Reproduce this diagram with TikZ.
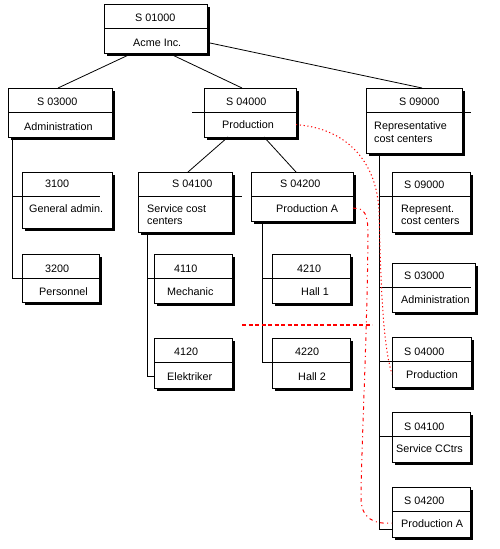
\documentclass[tikz,border=0pt]{standalone}
\usepackage{fontspec}
\setmainfont{Liberation Sans}
\usetikzlibrary{calc,shadows}

\tikzset{
  unit/.style={draw, fill=white, line width=0.8pt, inner sep=0pt, outer sep=0pt, anchor=north west,
    drop shadow={shadow xshift=2.6pt, shadow yshift=-2.6pt, opacity=1, fill=black}},
  txt/.style={anchor=base west, inner sep=0pt, font=\fontsize{10.8}{12}\selectfont},
  link/.style={line width=0.8pt},
  trace/.style={draw=red, line width=1pt, dash pattern=on 1.2pt off 2.6pt},
  trace2/.style={draw=red, line width=1pt, dash pattern=on 3.5pt off 3.5pt on 1pt off 3.5pt},
  redcut/.style={draw=red, line width=1.2pt, dash pattern=on 4pt off 2.5pt}
}

\begin{document}
\begin{tikzpicture}[x=1pt, y=-1pt]
\useasboundingbox (0,0) rectangle (499,549);

\node[unit, minimum width=103pt, minimum height=49pt] (s01000) at (104,4) {};
\node[unit, minimum width=104pt, minimum height=49pt] (s03000) at (8,88) {};
\node[unit, minimum width=92pt, minimum height=49pt] (s04000) at (204,88) {};
\node[unit, minimum width=96pt, minimum height=65pt] (s09000) at (366,88) {};
\node[unit, minimum width=90pt, minimum height=56pt] (u3100) at (22,172) {};
\node[unit, minimum width=77pt, minimum height=48pt] (u3200) at (22,254) {};
\node[unit, minimum width=94pt, minimum height=60pt] (s04100) at (138,172) {};
\node[unit, minimum width=102pt, minimum height=49pt] (s04200) at (251,172) {};
\node[unit, minimum width=78pt, minimum height=49pt] (u4110) at (154,254) {};
\node[unit, minimum width=78pt, minimum height=50pt] (u4120) at (154,338) {};
\node[unit, minimum width=78pt, minimum height=49pt] (u4210) at (272,254) {};
\node[unit, minimum width=78pt, minimum height=50pt] (u4220) at (272,338) {};
\node[unit, minimum width=78pt, minimum height=60pt] (r09000) at (392,172) {};
\node[unit, minimum width=83pt, minimum height=49pt] (r03000) at (392,263) {};
\node[unit, minimum width=79pt, minimum height=50pt] (r04000) at (392,337) {};
\node[unit, minimum width=78pt, minimum height=50pt] (r04100) at (392,412) {};
\node[unit, minimum width=78pt, minimum height=50pt] (r04200) at (392,487) {};

\foreach \b in {s01000,s03000,s04000,s09000,u3100,u3200,s04100,s04200,u4110,u4120,u4210,u4220,r09000,r03000,r04000,r04100,r04200}
  \coordinate (div\b) at ($(\b.north west)+(0,24.5)$);

\node[txt] (cs01000) at (135,21) {S 01000};
\node[txt] (ns01000) at (133,46) {Acme Inc.};
\node[txt] (cs03000) at (37,105) {S 03000};
\node[txt] (ns03000) at (24,130) {Administration};
\node[txt] (cs04000) at (226,105) {S 04000};
\node[txt] (ns04000) at (222,128.5) {Production};
\node[txt] (cs09000) at (399,105) {S 09000};
\node[txt] (ns09000) at (374,129) {Representative};
\node[txt] (ns09000b) at (374,142.5) {cost centers};
\node[txt] (cu3100) at (45,187) {3100};
\node[txt] (nu3100) at (29,212) {General admin.};
\node[txt] (cu3200) at (45,272) {3200};
\node[txt] (nu3200) at (39,295) {Personnel};
\node[txt] (cs04100) at (172,187) {S 04100};
\node[txt] (ns04100) at (147,212) {Service cost};
\node[txt] (ns04100b) at (147,224) {centers};
\node[txt] (cs04200) at (280,187) {S 04200};
\node[txt] (ns04200) at (276,212) {Production A};
\node[txt] (cu4110) at (174,272) {4110};
\node[txt] (nu4110) at (167,295) {Mechanic};
\node[txt] (cu4120) at (174,355) {4120};
\node[txt] (nu4120) at (167,380) {Elektriker};
\node[txt] (cu4210) at (297,272) {4210};
\node[txt] (nu4210) at (301,295) {Hall 1};
\node[txt] (cu4220) at (295,355) {4220};
\node[txt] (nu4220) at (298,380) {Hall 2};
\node[txt] (cr09000) at (404,188) {S 09000};
\node[txt] (nr09000) at (401,212) {Represent.};
\node[txt] (nr09000b) at (401,224) {cost centers};
\node[txt] (cr03000) at (404,279) {S 03000};
\node[txt] (nr03000) at (401,303) {Administration};
\node[txt] (cr04000) at (404,355) {S 04000};
\node[txt] (nr04000) at (406,378) {Production};
\node[txt] (cr04100) at (404,430) {S 04100};
\node[txt] (nr04100) at (396,452) {Service CCtrs};
\node[txt] (cr04200) at (404,504) {S 04200};
\node[txt] (nr04200) at (401,527) {Production A};

% dividers
\draw[link] (divs01000) -- (divs01000 -| s01000.east);
\draw[link] (divs03000) -- (divs03000 -| s03000.east);
\draw[link] ($(divs04000)+(-12,0)$) -- (divs04000 -| s04000.east);
\draw[link] (divs09000) -- ($(divs09000 -| s09000.east)+(9,0)$);
\draw[link] (divs04100) -- ($(divs04100 -| s04100.east)+(10,0)$);
\draw[link] (divs04200) -- (divs04200 -| s04200.east);
\draw[link] (divu4120) -- (divu4120 -| u4120.east);
\draw[link] (divr04200) -- (divr04200 -| r04200.east);

% tree
\draw[link] ($(s01000.south)+(-27,2)$) -- ($(s03000.north)+(-2,0)$);
\draw[link] ($(s01000.south)+(17,2)$) -- ($(s04000.north)+(-8,0)$);
\draw[link] ($(s01000.south east)+(3,-10)$) -- ($(s09000.north)+(8,0)$);
\draw[link] ($(s04000.south)+(-22,0)$) -- ($(s04100.north)+(3,0)$);
\draw[link] ($(s04000.south)+(14,0)$) -- ($(s04200.north)+(-6,0)$);

\draw[link] ($(s03000.south west)+(4,0)$) coordinate (t03000) |- (divu3200) -- (divu3200 -| u3200.east);
\draw[link] (t03000 |- divu3100) -- ++(88,0);
\draw[link] ($(s04100.south west)+(9,0)$) coordinate (t04100) |- ($(u4120.south west)+(0,-12)$);
\draw[link] (t04100 |- divu4110) -- (divu4110 -| u4110.east);
\draw[link] ($(s04200.south west)+(11,0)$) coordinate (t04200) |- (divu4220) -- (divu4220 -| u4220.east);
\draw[link] (t04200 |- divu4210) -- (divu4210 -| u4210.east);
\draw[link] ($(s09000.south west)+(13,0)$) coordinate (t09000) |- ($(r04200.south west)+(0,-8)$);
\foreach \b in {r09000,r04000,r04100}
  \draw[link] (t09000 |- div\b) -- (div\b -| \b.east);
\draw[link] (t09000 |- divr03000) -- ($(divr03000 -| r03000.east)+(-4,0)$);

% red traces
\draw[redcut] (242,325) -- (372,325);
\draw[trace] (s04000.east |- ns04000) .. controls (345,128) and (377,160) .. (379,212)
  .. controls (381,290) and (383,345) .. (r04000.west |- nr04000);
\draw[trace2] (s04200.east |- ns04200) .. controls (365,208) and (368,214) .. (368,235)
  .. controls (367,340) and (362,430) .. (361,495) .. controls (360,520) and (375,524) .. (r04200.west |- nr04200);
\end{tikzpicture}
\end{document}
